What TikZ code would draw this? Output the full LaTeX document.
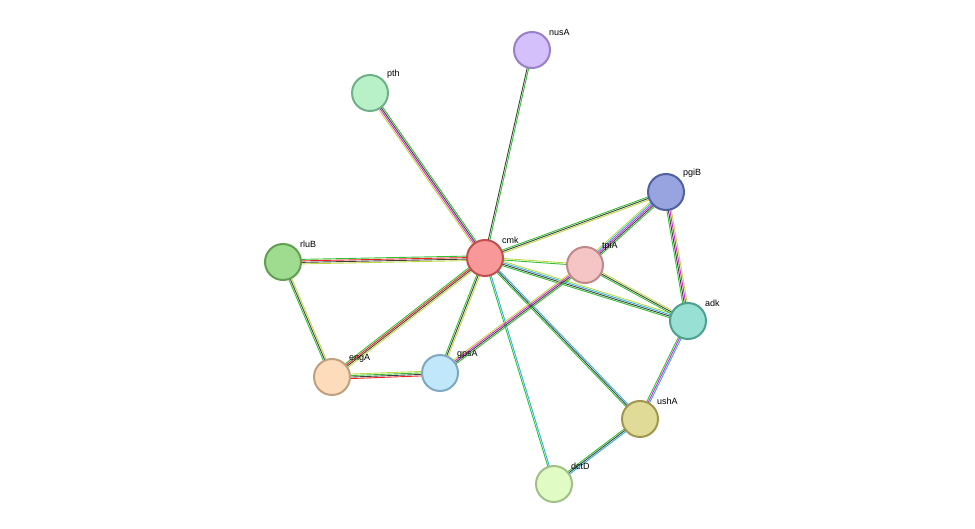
\documentclass[tikz,border=0pt]{standalone}
\usepackage{fontspec}
\setmainfont{Liberation Sans}
\usetikzlibrary{calc}
\definecolor{eg}{HTML}{33C033}\definecolor{ek}{HTML}{404040}\definecolor{ey}{HTML}{C0D840}
\definecolor{em}{HTML}{E020E0}\definecolor{ec}{HTML}{30B0E0}\definecolor{er}{HTML}{F02020}
\newcommand\sedge[3]{\foreach \c/\o in {#3}{\draw[\c,line width=0.9pt] ($(#1.center)!\o*1.5pt!90:(#2.center)$) -- ($(#2.center)!\o*1.5pt!-90:(#1.center)$);}}
\begin{document}
\begin{tikzpicture}[x=1pt,y=-1pt,
 prot/.style={circle,minimum size=36pt,line width=2pt,inner sep=0pt},
 lab/.style={font=\fontsize{9}{10}\selectfont,anchor=south west,inner sep=1pt}]
\useasboundingbox (0,0) rectangle (975,529);
\coordinate (nusA) at (532,50);\coordinate (pth) at (370,93);\coordinate (pgiB) at (666,192);
\coordinate (rluB) at (283,262);\coordinate (cmk) at (485,258);\coordinate (tpiA) at (585,265);
\coordinate (adk) at (688,321);\coordinate (engA) at (332,377);\coordinate (gpsA) at (440,373);
\coordinate (ushA) at (640,419);\coordinate (dctD) at (554,484);
\sedge{cmk}{nusA}{eg/-0.5,ek/0.5}
\sedge{cmk}{pth}{eg/-1.5,ek/-0.5,em/0.5,ey/1.5}
\sedge{cmk}{pgiB}{ey/-1,ek/0,eg/1}
\sedge{cmk}{tpiA}{eg/-0.5,ey/0.5}
\sedge{cmk}{adk}{eg/-1.5,ek/-0.5,ec/0.5,ey/1.5}
\sedge{cmk}{ushA}{eg/-1,ek/0,ec/1}
\sedge{cmk}{dctD}{eg/-0.5,ec/0.5}
\sedge{cmk}{gpsA}{eg/-1,ek/0,ey/1}
\sedge{cmk}{engA}{eg/-1.5,er/-0.5,ek/0.5,ey/1.5}
\sedge{cmk}{rluB}{eg/-1.5,er/-0.5,ek/0.5,ey/1.5}
\sedge{rluB}{engA}{eg/-1,ek/0,ey/1}
\sedge{engA}{gpsA}{er/-1.5,ek/-0.5,eg/0.5,ey/1.5}
\sedge{gpsA}{tpiA}{eg/-1.5,ek/-0.5,em/0.5,ey/1.5}
\sedge{tpiA}{pgiB}{eg/-2,ek/-1,em/0,ec/1,ey/2}
\sedge{tpiA}{adk}{eg/-1,ek/0,ey/1}
\sedge{pgiB}{adk}{eg/-1.5,ek/-0.5,em/0.5,ey/1.5}
\sedge{adk}{ushA}{eg/-1,em/0,ec/1}
\sedge{ushA}{dctD}{eg/-1,ek/0,ec/1}
\foreach \n/\f/\s in {nusA/D4C0FA/9A80C8,pth/B8F0C8/70B088,pgiB/97A4E0/5060A0,rluB/A0DC90/60A050,cmk/F89898/C05050,tpiA/F5C4C4/C08888,adk/98E0D4/50A090,engA/FDDCBC/C0A080,gpsA/C0E8FA/80A8C0,ushA/E0DC98/A09850,dctD/E0FCC4/A0C088}{
 \definecolor{nf}{HTML}{\f}\definecolor{ns}{HTML}{\s}
 \node[prot,fill=nf,draw=ns] (\n-n) at (\n) {};
 \node[lab] (\n-l) at ($(\n)+(16,-13)$) {\n};}
\end{tikzpicture}
\end{document}
